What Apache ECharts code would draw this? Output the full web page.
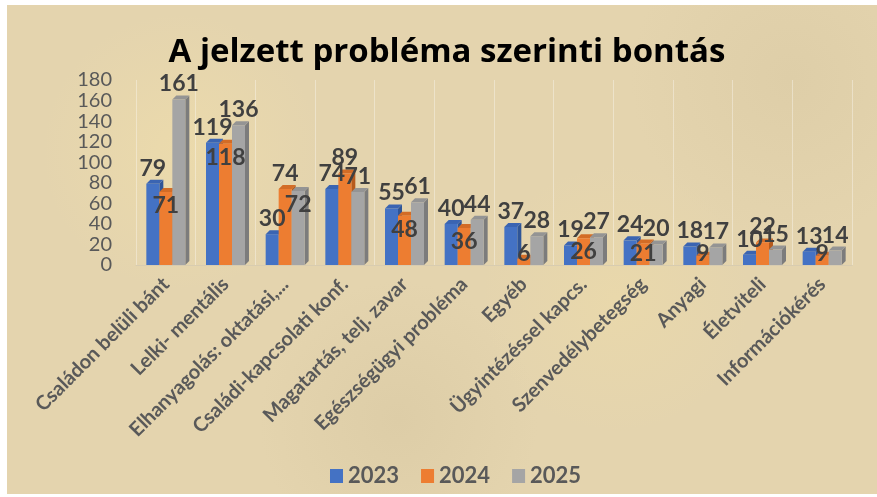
<!DOCTYPE html>
<html>
<head>
<meta charset="utf-8">
<script src="https://cdn.jsdelivr.net/npm/echarts@6/dist/echarts.min.js"></script>
<style>
  html, body { margin: 0; padding: 0; background: #fff; }
  #paper {
    position: absolute; left: 7px; top: 5px; width: 870px; height: 489px;
    background-color: #e4d4ae;
    background-image:
      radial-gradient(circle at 20% 30%, rgba(240,222,170,0.6) 0, rgba(240,222,170,0) 18%),
      radial-gradient(circle at 70% 60%, rgba(238,220,168,0.5) 0, rgba(238,220,168,0) 20%),
      radial-gradient(circle at 45% 85%, rgba(214,198,160,0.5) 0, rgba(214,198,160,0) 22%),
      radial-gradient(circle at 90% 15%, rgba(216,200,162,0.5) 0, rgba(216,200,162,0) 18%);
  }
  #chart { position: absolute; left: 0; top: 0; width: 877px; height: 497px; }
</style>
</head>
<body>
<div id="paper"></div>
<div id="chart"></div>
<script>
const categories = [
  "Családon belüli bánt", "Lelki- mentális", "Elhanyagolás: oktatási,...",
  "Családi-kapcsolati konf.", "Magatartás, telj. zavar", "Egészségügyi probléma",
  "Egyéb", "Ügyintézéssel kapcs.", "Szenvedélybetegség", "Anyagi",
  "Életviteli", "Információkérés"
];
const years = ["2023", "2024", "2025"];
const v2023 = [79, 119, 30, 74, 55, 40, 37, 19, 24, 18, 10, 13];
const v2024 = [71, 118, 74, 89, 48, 36, 6, 26, 21, 9, 22, 9];
const v2025 = [161, 136, 72, 71, 61, 44, 28, 27, 20, 17, 15, 14];
const yTicks = [0, 20, 40, 60, 80, 100, 120, 140, 160, 180];

const front = ["#4472c4", "#ed7d31", "#a5a5a5"];
const side = ["#2f5597", "#b65a1c", "#7c7c7c"];
const top_ = ["#3a64b2", "#d36c26", "#949494"];

const BAR_W = 13;
const DEPTH = 4;

// which labels sit inside the bar (Excel moved them there)
const insideLabels = {
  1: [0, 1, 4, 5, 6, 7, 8, 9, 11],
  2: [2]
};

const labelFont = {
  fontFamily: "Lato", fontWeight: "bold", fontSize: 23, color: "#404040"
};

function barData(values, s) {
  return values.map((v, i) => {
    const item = { value: v };
    if ((insideLabels[s] || []).indexOf(i) >= 0) {
      item.label = v <= 21
        ? { position: "insideBottom", distance: 0 }
        : { position: "insideTop", distance: 2 };
    }
    return item;
  });
}

const all = [v2023, v2024, v2025];

function renderDepth(params, api) {
  const idx = api.value(0);
  const base = api.coord([idx, 0]);
  const children = [];
  for (let s = 0; s < 3; s++) {
    const p = api.coord([idx, api.value(s + 1)]);
    const x0 = base[0] + (s - 1.5) * BAR_W;
    const x1 = x0 + BAR_W;
    const yt = p[1], yb = base[1];
    children.push({
      type: "polygon",
      shape: { points: [[x1, yt], [x1 + DEPTH, yt - DEPTH], [x1 + DEPTH, yb - DEPTH], [x1, yb]] },
      style: { fill: side[s] }
    });
    children.push({
      type: "polygon",
      shape: { points: [[x0, yt], [x0 + DEPTH, yt - DEPTH], [x1 + DEPTH, yt - DEPTH], [x1, yt]] },
      style: { fill: top_[s] }
    });
  }
  return { type: "group", children };
}

const chart = echarts.init(document.getElementById("chart"), null, { renderer: "canvas" });

const series = years.map((y, s) => ({
  name: y,
  type: "bar",
  data: barData(all[s], s),
  barWidth: BAR_W,
  barGap: "0%",
  z: 3,
  itemStyle: { color: front[s] },
  label: Object.assign({ show: true, position: "top", distance: 4 }, labelFont)
}));

series.push({
  type: "custom",
  z: 2,
  silent: true,
  renderItem: renderDepth,
  encode: { x: 0, y: [1, 2, 3] },
  data: categories.map((c, i) => [i, v2023[i], v2024[i], v2025[i]]),
  tooltip: { show: false }
});

chart.setOption({
  backgroundColor: "transparent",
  animation: false,
  title: {
    text: "A jelzett probléma szerinti bontás",
    left: 442,
    textAlign: "center",
    top: 31,
    textStyle: { fontFamily: "Open Sans", fontWeight: "bold", fontSize: 33, color: "#000" }
  },
  legend: {
    data: years,
    bottom: 5,
    left: 325,
    itemWidth: 13,
    itemHeight: 14,
    itemGap: 22,
    icon: "rect",
    textStyle: { fontFamily: "Lato", fontWeight: "bold", fontSize: 22, color: "#595959" }
  },
  grid: { left: 136, right: 25, top: 80, bottom: 232, containLabel: false },
  xAxis: {
    type: "category",
    data: categories,
    axisLine: { show: true, lineStyle: { color: "#d8ccb0" } },
    axisTick: { show: false },
    splitLine: { show: true, lineStyle: { color: "rgba(255,255,255,0.35)" } },
    axisLabel: {
      interval: 0, rotate: 45, margin: 16,
      fontFamily: "Lato", fontWeight: "bold", fontSize: 20, color: "#595959"
    }
  },
  yAxis: {
    type: "value",
    min: yTicks[0],
    max: yTicks[yTicks.length - 1],
    interval: yTicks[1] - yTicks[0],
    axisLine: { show: false },
    axisTick: { show: false },
    splitLine: { show: false },
    axisLabel: { margin: 24, fontFamily: "Lato", fontSize: 20, color: "#595959" }
  },
  series
});
</script>
</body>
</html>
